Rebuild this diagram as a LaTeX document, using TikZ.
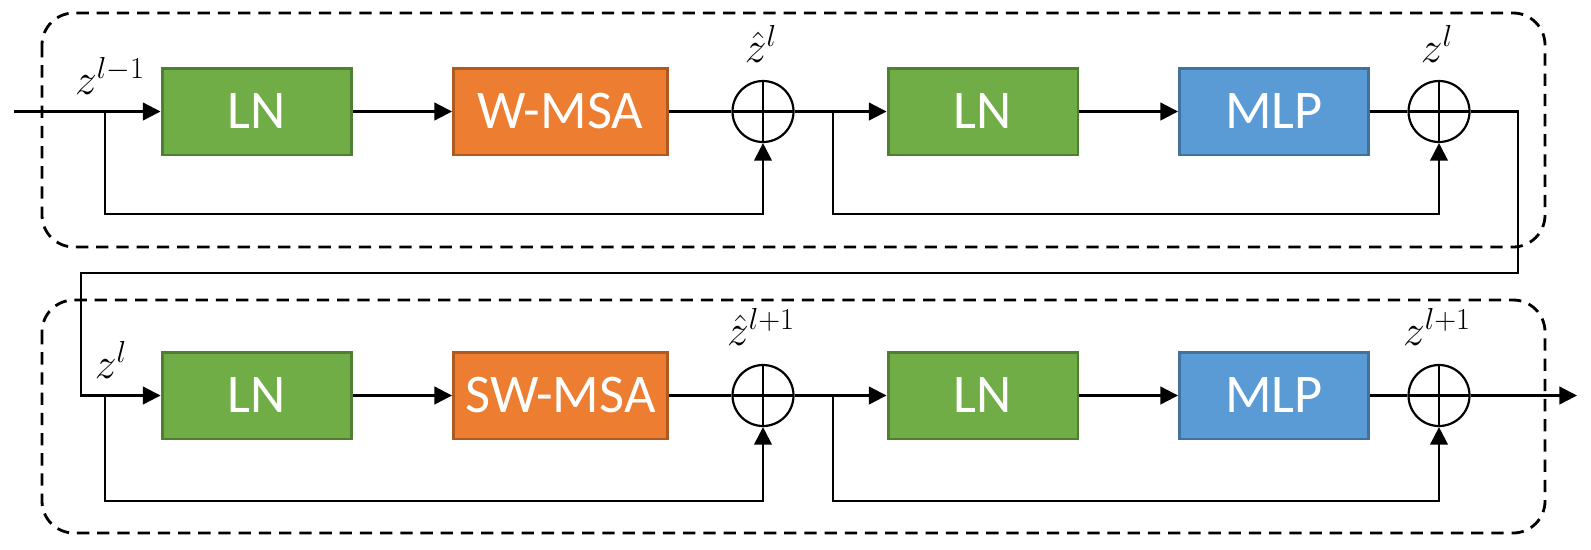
\documentclass[tikz,border=0pt]{standalone}
\usepackage{fontspec}
\setsansfont{Carlito}
\usetikzlibrary{arrows.meta}
\definecolor{gfill}{HTML}{70AD47}\definecolor{gdraw}{HTML}{507E32}
\definecolor{ofill}{HTML}{ED7D31}\definecolor{odraw}{HTML}{AE5A21}
\definecolor{bfill}{HTML}{5B9BD5}\definecolor{bdraw}{HTML}{41719C}
\tikzset{
  blk/.style={draw, line width=1.7pt, inner sep=0pt, minimum height=1.74cm,
    text=white, font=\sffamily\fontsize{31}{35}\selectfont},
  lnbox/.style={blk, fill=gfill, draw=gdraw, minimum width=3.8cm},
  msabox/.style={blk, fill=ofill, draw=odraw, minimum width=4.28cm},
  mlpbox/.style={blk, fill=bfill, draw=bdraw, minimum width=3.78cm},
  addnode/.style={circle, draw, line width=1.25pt, inner sep=0pt, minimum size=1.22cm,
    path picture={\draw[line width=1.25pt] (path picture bounding box.north) -- (path picture bounding box.south)
      (path picture bounding box.west) -- (path picture bounding box.east);}},
  conn/.style={line width=1.25pt},
  arr/.style={conn, -{Triangle[length=10pt,width=10pt]}},
  group/.style={line width=1.6pt, dash pattern=on 7pt off 4.5pt, rounded corners=0.64cm},
  lbl/.style={anchor=base, inner sep=0pt, font=\fontsize{26}{30}\selectfont}
}
\begin{document}
\begin{tikzpicture}[x=0.02cm, y=-0.02cm]
\useasboundingbox (0,0) rectangle (1591,549);
% groups
\draw[group] (42,13) rectangle (1545,247);
\draw[group] (42,300) rectangle (1545,533);
% top row
\node[lnbox] (ln1) at (257,111.5) {LN};
\node[msabox] (msa1) at (560.5,111.5) {W-MSA};
\node[addnode] (c1) at (763,111.5) {};
\node[lnbox] (ln2) at (983,111.5) {LN};
\node[mlpbox] (mlp1) at (1274,111.5) {MLP};
\node[addnode] (c2) at (1439,111.5) {};
% bottom row
\node[lnbox] (ln3) at (257,395.5) {LN};
\node[msabox] (msa2) at (560.5,395.5) {SW-MSA};
\node[addnode] (c3) at (763,395.5) {};
\node[lnbox] (ln4) at (983,395.5) {LN};
\node[mlpbox] (mlp2) at (1274,395.5) {MLP};
\node[addnode] (c4) at (1439,395.5) {};
% labels
\node[lbl] (t1) at (110,94) {$z^{l-1}$};
\node[lbl] (t2) at (761,62) {${\hat{z}}^{l}$};
\node[lbl] (t3) at (1437,62) {$z^{l}$};
\node[lbl] (t4) at (111,378) {$z^{l}$};
\node[lbl] (t5) at (761,345) {${\hat{z}}^{l+1}$};
\node[lbl] (t6) at (1437,345) {$z^{l+1}$};
% coordinates
\coordinate (in) at (14,111.5);
\coordinate (b1) at (105,111.5);
\coordinate (l1) at (105,214);
\coordinate (b2) at (833,111.5);
\coordinate (l2) at (833,214);
\coordinate (o1) at (1518,111.5);
\coordinate (o2) at (1518,273);
\coordinate (o3) at (81,273);
\coordinate (o4) at (81,395.5);
\coordinate (b3) at (105,395.5);
\coordinate (l3) at (105,501);
\coordinate (b4) at (833,395.5);
\coordinate (l4) at (833,501);
\coordinate (out) at (1577,395.5);
% top connectors
\draw[arr] (in) -- (ln1.west);
\draw[arr] (ln1.east) -- (msa1.west);
\draw[conn] (msa1.east) -- (c1.west);
\draw[arr] (c1.east) -- (ln2.west);
\draw[arr] (ln2.east) -- (mlp1.west);
\draw[conn] (mlp1.east) -- (c2.west);
\draw[arr] (b1) -- (l1) -| (c1.south);
\draw[arr] (b2) -- (l2) -| (c2.south);
% link between rows
\draw[arr] (c2.east) -- (o1) -- (o2) -- (o3) -- (o4) -- (ln3.west);
% bottom connectors
\draw[arr] (ln3.east) -- (msa2.west);
\draw[conn] (msa2.east) -- (c3.west);
\draw[arr] (c3.east) -- (ln4.west);
\draw[arr] (ln4.east) -- (mlp2.west);
\draw[conn] (mlp2.east) -- (c4.west);
\draw[arr] (c4.east) -- (out);
\draw[arr] (b3) -- (l3) -| (c3.south);
\draw[arr] (b4) -- (l4) -| (c4.south);
\end{tikzpicture}
\end{document}
